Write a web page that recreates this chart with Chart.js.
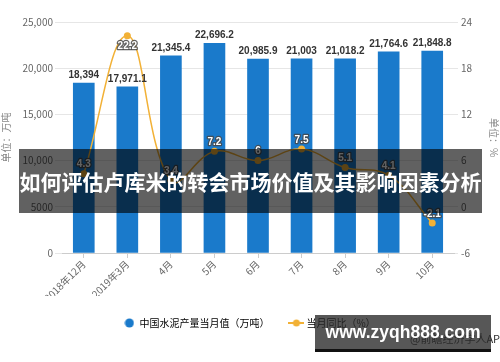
<!DOCTYPE html>
<html>
<head>
<meta charset="utf-8">
<script src="https://cdn.jsdelivr.net/npm/chart.js@4.4.1/dist/chart.umd.min.js"></script>
<style>
  html, body { margin: 0; padding: 0; background: #fff; }
  #wrap { position: relative; width: 500px; height: 362px; overflow: hidden; }
  #banner {
    position: absolute; left: 19px; top: 149px; width: 463px; height: 64px;
    background: rgba(0, 0, 0, 0.62); color: #fff;
    font: 700 21px "Noto Sans CJK SC", sans-serif;
    line-height: 64px; text-align: center; white-space: nowrap;
  }
  #src {
    position: absolute; left: 410px; top: 330px; color: #333;
    font: 11px "Noto Sans CJK SC", sans-serif; white-space: nowrap;
  }
  #mark {
    position: absolute; left: 315px; top: 315px; width: 176px; height: 34px;
    background: rgba(40, 40, 40, 0.78); border-bottom: 3px solid #111;
    color: #fff; font: 700 17.5px "Liberation Sans", Arial, sans-serif;
    line-height: 34px; text-align: center; white-space: nowrap;
  }
</style>
</head>
<body>
<div id="wrap">
  <canvas id="chart" width="500" height="362"></canvas>
  <div id="banner">如何评估卢库米的转会市场价值及其影响因素分析</div>
  <div id="src">@前瞻经济学人APP</div>
  <div id="mark">www.zyqh888.com</div>
</div>
<script>
// 월별 데이터
const categories = ['2018年12月', '2019年3月', '4月', '5月', '6月', '7月', '8月', '9月', '10月'];
const cementOutput = [18394, 17971.1, 21345.4, 22696.2, 20985.9, 21003, 21018.2, 21764.6, 21848.8];
const yoyChange = [4.3, 22.2, 3.4, 7.2, 6, 7.5, 5.1, 4.1, -2.1];
const barLabel = '中国水泥产量当月值（万吨）';
const lineLabel = '当月同比（%）';

const BLUE = '#1a7acb';
const ORANGE = '#f2b136';
const FONT = '"Noto Sans CJK SC", sans-serif';

// 범례 아이콘
function circleIcon() {
    const c = document.createElement('canvas');
    c.width = 10; c.height = 10;
    const g = c.getContext('2d');
    g.fillStyle = BLUE;
    g.beginPath(); g.arc(5, 5, 4.5, 0, Math.PI * 2); g.fill();
    return c;
}
function lineIcon() {
    const c = document.createElement('canvas');
    c.width = 16; c.height = 10;
    const g = c.getContext('2d');
    g.strokeStyle = ORANGE; g.lineWidth = 2;
    g.beginPath(); g.moveTo(0, 5); g.lineTo(16, 5); g.stroke();
    g.fillStyle = ORANGE;
    g.beginPath(); g.arc(8, 5, 3.5, 0, Math.PI * 2); g.fill();
    return c;
}

const valueLabels = {
    id: 'valueLabels',
    afterDatasetsDraw(chart) {
        const ctx = chart.ctx;
        const area = chart.chartArea;
        ctx.save();
        ctx.textAlign = 'center';
        ctx.textBaseline = 'bottom';
        ctx.font = 'bold 10px "Liberation Sans", Arial, sans-serif';

        chart.getDatasetMeta(0).data.forEach((el, i) => {
            ctx.fillStyle = '#333';
            ctx.fillText(cementOutput[i].toLocaleString('en-US'), el.x, el.y - 3);
        });

        chart.getDatasetMeta(1).data.forEach((el, i) => {
            const txt = String(yoyChange[i]);
            let y = el.y - 4;
            if (y - 12 < area.top) {
                ctx.textBaseline = 'top';
                y = el.y + 5;
            } else {
                ctx.textBaseline = 'bottom';
            }
            ctx.lineWidth = 2.5;
            ctx.lineJoin = 'round';
            ctx.strokeStyle = 'rgba(70,70,70,0.85)';
            ctx.strokeText(txt, el.x, y);
            ctx.fillStyle = '#fff';
            ctx.fillText(txt, el.x, y);
        });
        ctx.restore();
    }
};

new Chart(document.getElementById('chart'), {
    data: {
        labels: categories,
        datasets: [
            {
                type: 'bar',
                label: barLabel,
                data: cementOutput,
                backgroundColor: BLUE,
                barThickness: 21,
                yAxisID: 'y',
                order: 1
            },
            {
                type: 'line',
                label: lineLabel,
                data: yoyChange,
                borderColor: ORANGE,
                borderWidth: 1.5,
                backgroundColor: ORANGE,
                pointRadius: 3.5,
                pointBackgroundColor: ORANGE,
                pointBorderWidth: 0,
                tension: 0.4,
                yAxisID: 'y1',
                order: 0
            }
        ]
    },
    options: {
        responsive: false,
        animation: false,
        devicePixelRatio: 1,
        layout: { padding: { top: 22, bottom: 24, left: 0, right: 0 } },
        plugins: {
            tooltip: { enabled: false },
            legend: {
                position: 'bottom',
                labels: {
                    usePointStyle: true,
                    boxWidth: 10,
                    boxHeight: 10,
                    padding: 22,
                    color: '#333',
                    font: { family: FONT, size: 10 },
                    generateLabels: () => [
                        { text: barLabel, pointStyle: circleIcon(), fillStyle: BLUE, strokeStyle: BLUE, lineWidth: 0, datasetIndex: 0, hidden: false },
                        { text: lineLabel, pointStyle: lineIcon(), fillStyle: ORANGE, strokeStyle: ORANGE, lineWidth: 0, datasetIndex: 1, hidden: false }
                    ]
                }
            }
        },
        scales: {
            x: {
                offset: true,
                grid: { display: true, drawOnChartArea: false, offset: false, tickLength: 5, color: '#cccccc' },
                border: { color: '#cccccc' },
                ticks: { color: '#666', font: { family: FONT, size: 10 }, maxRotation: 45, minRotation: 45, padding: 0 },
                afterFit: (scale) => { scale.height = 43; }
            },
            y: {
                position: 'left',
                min: 0, max: 25000,
                ticks: {
                    stepSize: 5000, color: '#666', padding: 2,
                    font: { family: FONT, size: 10 },
                    callback: (v) => v >= 10000 ? v.toLocaleString('en-US') : String(v)
                },
                grid: { color: '#e6e6e6', tickLength: 7 },
                border: { display: false },
                title: { display: true, text: '单位：万吨', color: '#888', font: { family: FONT, size: 10 }, padding: { top: 0, bottom: 0 } },
                afterFit: (scale) => { scale.width = 62; }
            },
            y1: {
                position: 'right',
                min: -6, max: 24,
                ticks: { stepSize: 6, color: '#666', padding: 3, font: { family: FONT, size: 10 } },
                grid: { drawOnChartArea: false, color: '#e6e6e6', tickLength: 4 },
                border: { display: false },
                title: { display: true, text: '单位：%', color: '#888', font: { family: FONT, size: 10 }, padding: 0 },
                afterFit: (scale) => { scale.width = 46; }
            }
        }
    },
    plugins: [valueLabels]
});
</script>
</body>
</html>
